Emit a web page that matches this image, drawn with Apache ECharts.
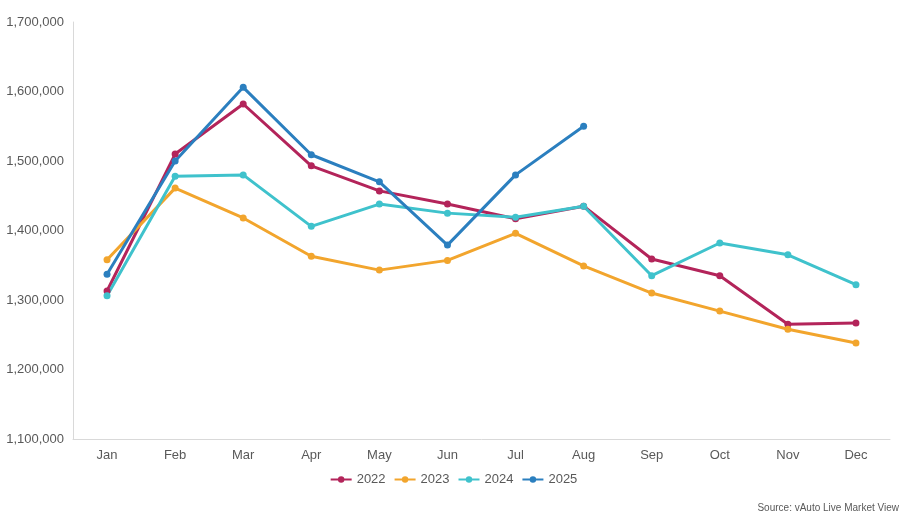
<!DOCTYPE html>
<html>
<head>
<meta charset="utf-8">
<script src="https://cdn.jsdelivr.net/npm/echarts@6/dist/echarts.min.js"></script>
<style>html,body{margin:0;padding:0;background:#fff;}#c{width:907px;height:517px;}</style>
</head>
<body>
<div id="c"></div>
<script>
const categories = ['Jan','Feb','Mar','Apr','May','Jun','Jul','Aug','Sep','Oct','Nov','Dec'];
const s2022 = [1313000,1510000,1582000,1493000,1457000,1438000,1417000,1435000,1359000,1335000,1265000,1267000];
const s2023 = [1358000,1461000,1418000,1363000,1343000,1357000,1396000,1349000,1310000,1284000,1258000,1238000];
const s2024 = [1306000,1478000,1480000,1406000,1438000,1425000,1419000,1435000,1335000,1382000,1365000,1322000];
const s2025 = [1337000,1500000,1606000,1509000,1470000,1379000,1480000,1550000];
const seriesNames = ['2022','2023','2024','2025'];
const colors = ['#B3245A','#F2A52D','#3FC2CC','#2B7FBF'];
const font = '"Liberation Sans", Arial, sans-serif';
const chart = echarts.init(document.getElementById('c'), null, {renderer:'canvas'});
const data = [s2022,s2023,s2024,s2025];
chart.setOption({
  animation:false,
  color: colors,
  grid:{left:73,right:17,top:22,bottom:78,containLabel:false},
  legend:{
    bottom:26, left:'center',
    itemWidth:21, itemHeight:8, itemGap:8,
    textStyle:{fontFamily:font,fontSize:13,color:'#595959'},
    data: seriesNames
  },
  graphic:[{type:'text',right:8,bottom:4,style:{text:'Source: vAuto Live Market View',font:'10px "Liberation Sans", Arial, sans-serif',fill:'#595959'}}],
  xAxis:{
    type:'category', data:categories, boundaryGap:true,
    axisLine:{lineStyle:{color:'#D9D9D9'}},
    axisTick:{show:false},
    axisLabel:{fontFamily:font,fontSize:13,color:'#595959',margin:10}
  },
  yAxis:{
    type:'value', min:1100000, max:1700000, interval:100000,
    axisLine:{show:true,lineStyle:{color:'#D9D9D9'}},
    axisTick:{show:false},
    splitLine:{show:false},
    axisLabel:{fontFamily:font,fontSize:13,color:'#595959',margin:9,
      formatter:v=>v.toLocaleString('en-US')}
  },
  series: data.map((d,i)=>({
    name:seriesNames[i], type:'line', data:d,
    symbol:'circle', symbolSize:7,
    lineStyle:{width:3,color:colors[i]},
    itemStyle:{color:colors[i]}
  }))
});
</script>
</body>
</html>
